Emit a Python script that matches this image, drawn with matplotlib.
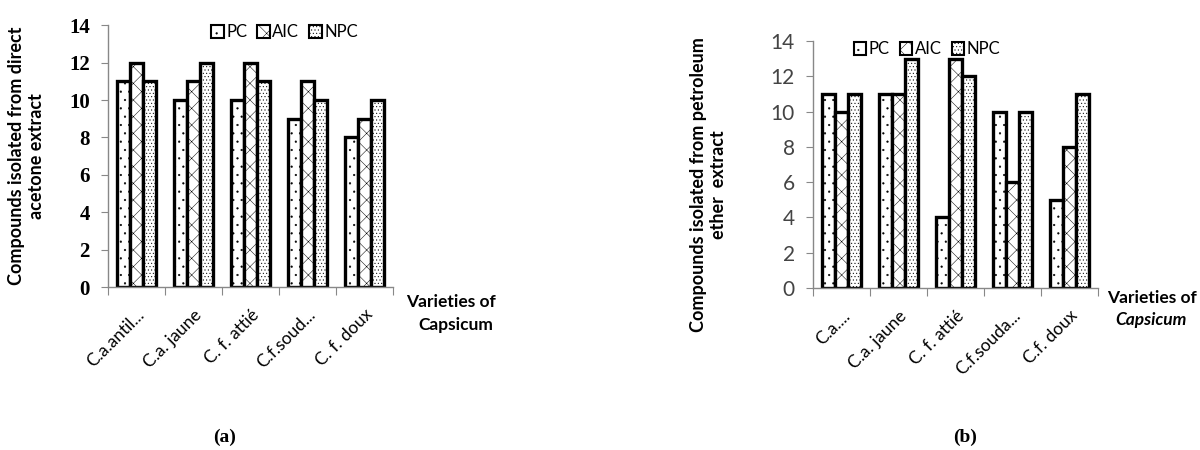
import matplotlib
matplotlib.use("Agg")
import matplotlib.pyplot as plt
import numpy as np

plt.rcParams['hatch.linewidth'] = 0.35

series = ["PC", "AIC", "NPC"]
cats_a = ["C.a.antil...", "C.a. jaune", "C. f. attié", "C.f.soud...", "C. f. doux"]
pc_a = [11, 10, 10, 9, 8]
aic_a = [12, 11, 12, 11, 9]
npc_a = [11, 12, 11, 10, 10]

cats_b = ["C.a....", "C.a. jaune", "C. f. attié", "C.f.souda...", "C.f. doux"]
pc_b = [11, 11, 4, 10, 5]
aic_b = [10, 11, 13, 6, 8]
npc_b = [11, 13, 12, 10, 11]

yticks = [0, 2, 4, 6, 8, 10, 12, 14]
hatches = ['..', 'xx', '.....']

fig = plt.figure(figsize=(12, 4.5), dpi=100)
ax_a = fig.add_axes([0.09, 0.362, 0.2375, 0.582])
ax_b = fig.add_axes([0.6775, 0.36, 0.2375, 0.549])

def draw(ax, cats, vals, ylab, tickfont, tickcolor, tickweight, legx):
    x = np.arange(len(cats))
    w = 0.225
    for i, (name, v) in enumerate(zip(series, vals)):
        ax.bar(x + (i - 1) * w, v, w, facecolor='white', edgecolor='black',
               linewidth=2.4, hatch=hatches[i], label=name)
    ax.set_xlim(-0.5, len(cats) - 0.5)
    ax.set_ylim(0, 14)
    ax.set_yticks(yticks)
    ax.set_yticklabels([str(t) for t in yticks], fontfamily=tickfont,
                       fontsize=15, color=tickcolor, fontweight=tickweight)
    ax.set_xticks(np.arange(len(cats) + 1) - 0.5)
    ax.set_xticklabels([])
    ax.tick_params(axis='x', which='major', length=6, color='#888888', direction='out')
    ax.tick_params(axis='y', length=5, color='#888888', pad=8)
    ax.set_xticks(x, minor=True)
    ax.set_xticklabels(cats, minor=True, rotation=45, ha='right',
                       rotation_mode='anchor', fontsize=12.5, fontfamily='Lato')
    ax.tick_params(axis='x', which='minor', length=0, pad=14)
    for s in ['top', 'right']:
        ax.spines[s].set_visible(False)
    for s in ['left', 'bottom']:
        ax.spines[s].set_color('#888888')
        ax.spines[s].set_linewidth(1.0)
    ax.set_ylabel(ylab, fontfamily='Lato', fontweight='bold', fontsize=13,
                  linespacing=1.25)
    leg = ax.legend(ncol=3, loc='upper center', bbox_to_anchor=(legx, 1.06),
                    frameon=False, handlelength=0.75, handleheight=0.85,
                    handletextpad=0.15, columnspacing=0.6,
                    prop={'family': 'Lato', 'size': 12})
    for p in leg.get_patches():
        p.set_linewidth(1.5)
    return ax

draw(ax_a, cats_a, [pc_a, aic_a, npc_a],
     "Compounds isolated from direct\nacetone extract", 'Liberation Serif', 'black',
     'bold', 0.62)
ax_a.yaxis.set_label_coords(-0.22, 0.5)
draw(ax_b, cats_b, [pc_b, aic_b, npc_b],
     "Compounds isolated from petroleum\nether  extract", 'Lato', '#444444',
     'normal', 0.4)
ax_b.yaxis.set_label_coords(-0.3, 0.42)

fig.text(406 / 1200, 1 - 302 / 450, "Varieties of", fontfamily='Lato',
         fontweight='bold', fontsize=12.5, va='center', ha='left')
fig.text(418 / 1200, 1 - 325 / 450, "Capsicum", fontfamily='Lato',
         fontweight='bold', fontsize=12.5, va='center', ha='left')
fig.text(1107 / 1200, 1 - 298 / 450, "Varieties of", fontfamily='Lato',
         fontweight='bold', fontsize=12.5, va='center', ha='left')
fig.text(1115 / 1200, 1 - 320 / 450, "Capsicum", fontfamily='Lato',
         fontweight='bold', fontstyle='italic', fontsize=12.5, va='center', ha='left')

fig.text(225 / 1200, 1 - 437 / 450, "(a)", fontfamily='Liberation Serif',
         fontweight='bold', fontsize=14, ha='center', va='center')
fig.text(965 / 1200, 1 - 437 / 450, "(b)", fontfamily='Liberation Serif',
         fontweight='bold', fontsize=14, ha='center', va='center')

fig.savefig("out.png", dpi=100, facecolor='white')
